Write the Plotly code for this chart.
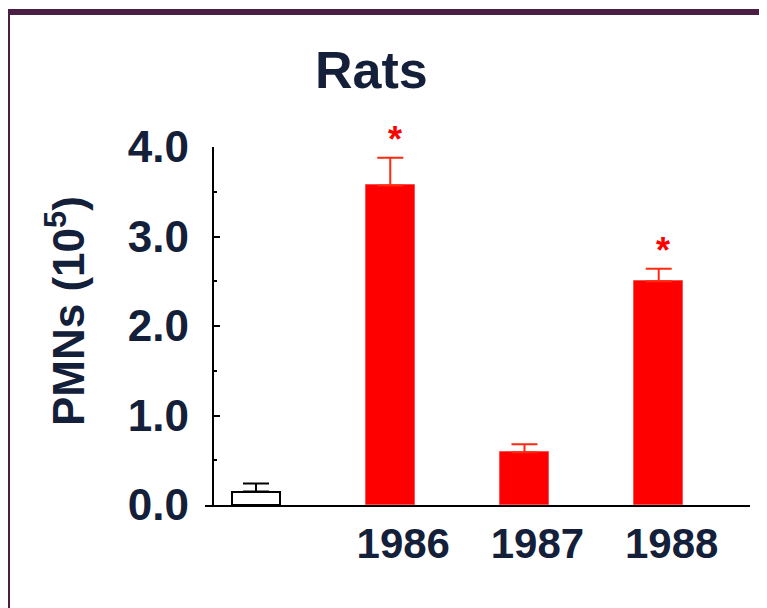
import plotly.graph_objects as go

# ---- data ----
categories = ["Control", "1986", "1987", "1988"]
x_pos = [0, 1, 2, 3]
pmn_values = [0.15, 3.57, 0.59, 2.50]
pmn_errors = [0.09, 0.31, 0.09, 0.14]
significant = [False, True, False, True]
y_tick_vals = [0, 1, 2, 3, 4]
y_tick_text = ["0.0", "1.0", "2.0", "3.0", "4.0"]
x_tick_vals = [1, 2, 3]
x_tick_text = ["1986", "1987", "1988"]

# page offset of the plot div (default body margin) and figure size
OFF = 8
W, H = 767 - OFF, 608 - OFF
TEXT = "#14203a"
FONT = "Liberation Sans"


def px(x):
    return (x - OFF) / W


def py(y):
    return 1 - (y - OFF) / H


fig = go.Figure()

# control bar (white, outlined)
fig.add_trace(go.Bar(
    x=x_pos[:1], y=pmn_values[:1], width=0.36,
    marker=dict(color="white", line=dict(color="black", width=2)),
    error_y=dict(type="data", symmetric=False, array=pmn_errors[:1],
                 arrayminus=[0], color="black", thickness=2, width=13),
    showlegend=False,
))
# year bars (red)
fig.add_trace(go.Bar(
    x=x_pos[1:], y=pmn_values[1:], width=0.365,
    marker=dict(color="#ff0000", line=dict(color="#ff5050", width=1)),
    error_y=dict(type="data", symmetric=False, array=pmn_errors[1:],
                 arrayminus=[0] * 3, color="#ff2a10", thickness=2, width=13),
    showlegend=False,
))

# significance asterisks
for xi, v, e, s in zip(x_pos, pmn_values, pmn_errors, significant):
    if s:
        fig.add_annotation(x=xi + 0.035, y=v + e, xref="x", yref="y",
                           text="<b>*</b>", showarrow=False,
                           font=dict(family=FONT, size=36, color="#ff0000"),
                           xanchor="center", yanchor="bottom", yshift=-4)

# title and y label
fig.add_annotation(x=px(371.5), y=py(70), xref="paper", yref="paper",
                   text="<b>Rats</b>", showarrow=False,
                   xanchor="center", yanchor="middle",
                   font=dict(family=FONT, size=52, color=TEXT))
fig.add_annotation(x=px(65), y=py(311), xref="paper", yref="paper",
                   text="<b>PMNs (10<sup>5</sup>)</b>", showarrow=False, textangle=-90,
                   xanchor="center", yanchor="middle",
                   font=dict(family=FONT, size=44, color=TEXT))

# frame
fig.add_shape(type="line", xref="paper", yref="paper",
              x0=px(5), x1=1.02, y0=py(12), y1=py(12),
              line=dict(color="#4b1f44", width=6))
fig.add_shape(type="line", xref="paper", yref="paper",
              x0=px(7.5), x1=px(7.5), y0=py(9), y1=-0.02,
              line=dict(color="#4b1f44", width=5))

fig.update_layout(
    width=W, height=H,
    template="none",
    margin=dict(l=0, r=0, t=0, b=0, autoexpand=False),
    paper_bgcolor="white", plot_bgcolor="white",
    bargap=0,
    xaxis=dict(
        domain=[px(205), px(750)], range=[-0.38, 3.68],
        automargin=False,
        showline=True, linecolor="black", linewidth=2,
        showgrid=False, zeroline=False, ticks="",
        tickmode="array", tickvals=x_tick_vals, ticktext=x_tick_text,
        tickfont=dict(family=FONT, size=42, color=TEXT, weight="bold"),
        ticklabelshift=13, ticklabelstandoff=1,
        anchor="y",
    ),
    yaxis=dict(
        domain=[py(505), py(147)], range=[0, 4.0],
        automargin=False,
        anchor="free", position=px(212.7),
        showline=True, linecolor="black", linewidth=2,
        showgrid=False, zeroline=False,
        ticks="inside", ticklen=6, tickwidth=2, tickcolor="black",
        tickmode="array", tickvals=y_tick_vals, ticktext=y_tick_text,
        minor=dict(dtick=0.5, ticks="inside", ticklen=3, tickwidth=2, tickcolor="black"),
        tickfont=dict(family=FONT, size=44, color=TEXT, weight="bold"),
        ticklabelstandoff=14,
    ),
)

fig.write_html("out.html")
